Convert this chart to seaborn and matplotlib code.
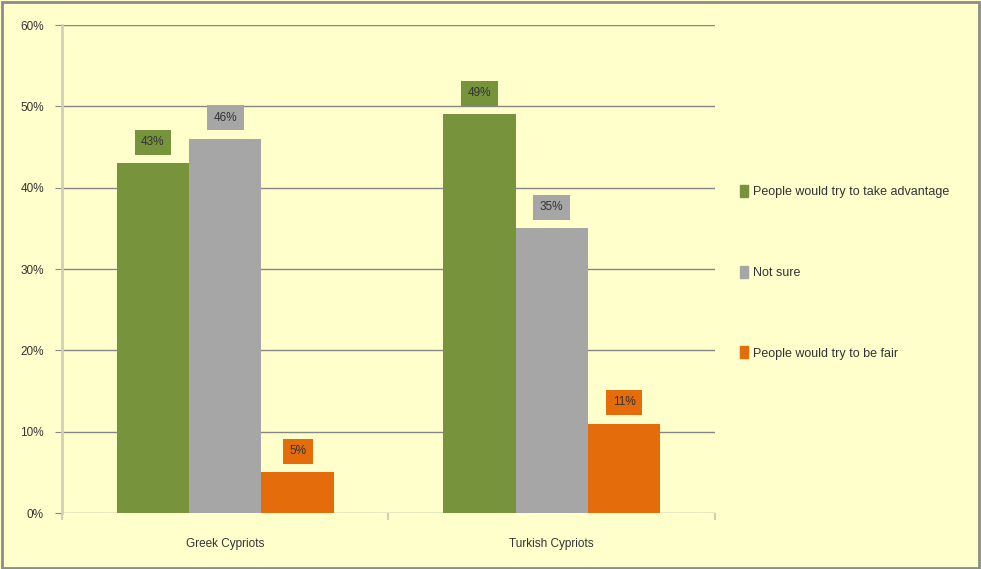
import pandas as pd
import matplotlib.pyplot as plt
import matplotlib.patches as mpatches
import seaborn as sns

# Survey answers by community (percent)
groups = ['Greek Cypriots', 'Turkish Cypriots']
answers = ['People would try to take advantage', 'Not sure', 'People would try to be fair']
take_advantage = [43, 49]
not_sure = [46, 35]
be_fair = [5, 11]
y_ticks = [0, 10, 20, 30, 40, 50, 60]

colors = ['#77933C', '#A6A6A6', '#E46C0A']
bg = '#FFFFCC'

df = pd.DataFrame({
    'group': groups * 3,
    'answer': [answers[0]] * 2 + [answers[1]] * 2 + [answers[2]] * 2,
    'value': take_advantage + not_sure + be_fair,
})

sns.set_style('white')
plt.rcParams['font.family'] = ['Liberation Sans Narrow', 'Liberation Sans', 'DejaVu Sans']

fig = plt.figure(figsize=(9.81, 5.69), dpi=100, facecolor=bg)
ax = fig.add_axes([0.0632, 0.0984, 0.6656, 0.8576])
ax.set_facecolor(bg)

sns.barplot(data=df, x='group', y='value', hue='answer', hue_order=answers,
            palette=colors, width=0.665, saturation=1, linewidth=0, ax=ax, legend=True)

# Data labels in boxes coloured like their bars
for container, c in zip(ax.containers, colors):
    texts = ax.bar_label(container, fmt='%g%%', padding=11, fontsize=8.5, color='#333333')
    for t in texts:
        t.set_bbox(dict(boxstyle='square,pad=0.55', facecolor=c, edgecolor='none'))

ax.set_ylim(0, 60)
ax.set_xlim(-0.5, 1.5)
ax.set_yticks(y_ticks)
ax.set_yticklabels([f'{v}%' for v in y_ticks], fontsize=8.5, color='#333333')
ax.yaxis.grid(True, color='#868686', linewidth=1)
ax.set_axisbelow(True)
ax.tick_params(axis='y', length=5, color='#868686', pad=8, left=True)
ax.set_xticks([0, 1])
ax.set_xticklabels(groups, fontsize=8.5, color='#333333')
ax.set_xticks([-0.5, 0.5, 1.5], minor=True)
ax.tick_params(axis='x', which='major', length=0, pad=18)
ax.tick_params(axis='x', which='minor', length=5, color='#D0D0B8', width=1.5, bottom=True)
ax.set_xlabel('')
ax.set_ylabel('')
for s in ['top', 'right', 'bottom']:
    ax.spines[s].set_visible(False)
ax.spines['left'].set_color('#D0D0B8')
ax.spines['left'].set_linewidth(2)

ax.legend(handles=[mpatches.Patch(color=c, label=a) for c, a in zip(colors, answers)],
          loc='upper left', bbox_to_anchor=(0.743, 0.695), bbox_transform=fig.transFigure,
          frameon=False, fontsize=9, handlelength=0.6, handleheight=1.1,
          handletextpad=0.4, labelspacing=5.4, labelcolor='#333333')

fig.patches.append(mpatches.Rectangle((0.002, 0.002), 0.996, 0.994, transform=fig.transFigure,
                                      fill=False, edgecolor='#8C8C8C', linewidth=2))

fig.savefig('out.png', dpi=100, facecolor=bg)
